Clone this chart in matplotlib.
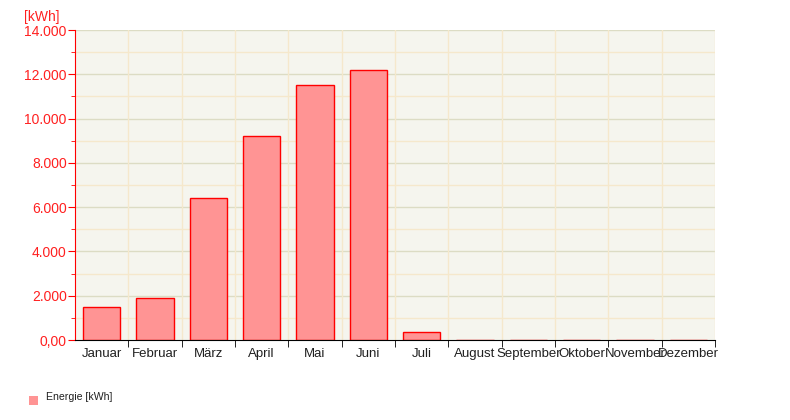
import numpy as np
import matplotlib.pyplot as plt
from matplotlib.ticker import FixedLocator, MultipleLocator

plt.rcParams['font.family'] = ['Liberation Sans', 'DejaVu Sans']

months = ["Januar", "Februar", "März", "April", "Mai", "Juni", "Juli",
          "August", "September", "Oktober", "November", "Dezember"]
energy = [1490, 1900, 6410, 9210, 11520, 12190, 360, 0, 0, 0, 0, 0]
y_ticks = [0, 2000, 4000, 6000, 8000, 10000, 12000, 14000]
y_labels = ["0,00", "2.000", "4.000", "6.000", "8.000", "10.000", "12.000", "14.000"]

fig = plt.figure(figsize=(7.9, 4.2), dpi=100)
ax = fig.add_axes([75 / 790, 80 / 420, 640 / 790, 310 / 420])
ax.set_facecolor('#f5f5ee')

x = np.arange(len(months))
ax.bar(x, energy, width=0.7, color='#ff9494', edgecolor='#ff0000', linewidth=1.0, zorder=3)

ax.set_xlim(-0.5, len(months) - 0.5)
ax.set_ylim(0, 14000)

# y axis
ax.set_yticks(y_ticks)
ax.set_yticklabels(y_labels)
ax.yaxis.set_minor_locator(MultipleLocator(1000))
ax.tick_params(axis='y', which='both', colors='#ff0000', labelcolor='#ff2020', labelsize=10, pad=1)
ax.tick_params(axis='y', which='major', length=5)
ax.tick_params(axis='y', which='minor', length=3)

# x axis: labels at centres, ticks at boundaries
ax.set_xticks(x)
ax.set_xticklabels(months)
ax.xaxis.set_minor_locator(FixedLocator(np.arange(0.5, len(months), 1.0)))
ax.tick_params(axis='x', which='major', length=0, labelsize=9.5, labelcolor='#202020', pad=6)
ax.tick_params(axis='x', which='minor', length=5, color='black', direction='out')

# grid
for v in range(1000, 14001, 1000):
    c = '#dcdcc4' if v % 2000 == 0 else '#f5e8cc'
    ax.axhline(v, color=c, linewidth=1, zorder=1)
for b in np.arange(0.5, len(months), 1.0):
    ax.axvline(b, color='#f5e8cc', linewidth=1, zorder=1)

for s in ['top', 'right']:
    ax.spines[s].set_visible(False)
ax.spines['left'].set_color('#ff0000')
ax.spines['bottom'].set_color('black')
ax.spines['left'].set_zorder(4)
ax.spines['bottom'].set_zorder(4)

fig.text(24 / 790, 1 - 17 / 420, "[kWh]", color='#ff2020', fontsize=10, va='center', ha='left')

# legend
fig.patches.append(plt.Rectangle((29 / 790, 1 - 405 / 420), 9 / 790, 9 / 420,
                                 transform=fig.transFigure, facecolor='#ff9494', edgecolor='none'))
fig.text(46 / 790, 1 - 397 / 420, "Energie [kWh]", fontsize=7.6, color='#202020', va='center', ha='left')

fig.savefig('out.png', dpi=100)
